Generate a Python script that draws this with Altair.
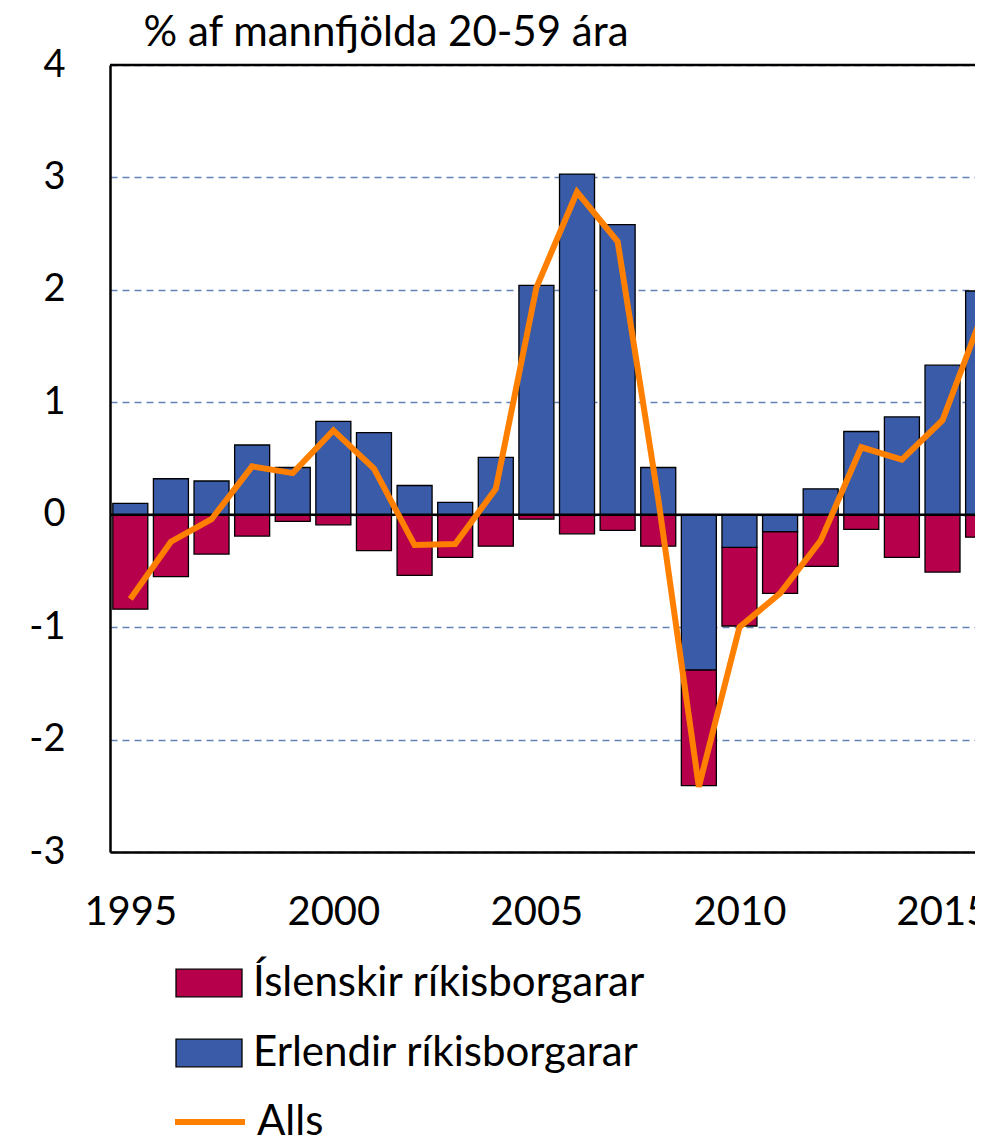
import altair as alt
import pandas as pd

FONT = "Lato"

years = list(range(1995, 2017))
erlendir = [0.10, 0.32, 0.30, 0.62, 0.42, 0.83, 0.73, 0.26, 0.11, 0.51, 2.04,
            3.03, 2.58, 0.42, -1.38, -0.29, -0.15, 0.23, 0.74, 0.87, 1.33, 1.99]
islenskir = [-0.84, -0.55, -0.35, -0.19, -0.06, -0.09, -0.32, -0.54, -0.38, -0.28, -0.04,
             -0.17, -0.14, -0.28, -1.03, -0.70, -0.55, -0.46, -0.13, -0.38, -0.51, -0.20]
alls = [-0.75, -0.24, -0.04, 0.43, 0.37, 0.75, 0.41, -0.27, -0.26, 0.23, 2.02,
        2.87, 2.43, 0.14, -2.42, -1.00, -0.70, -0.23, 0.60, 0.49, 0.84, 1.80]

bar_series = ["Íslenskir ríkisborgarar", "Erlendir ríkisborgarar"]
bar_colors = ["#B7004B", "#3A5BA8"]
line_series = ["Alls"]
line_colors = ["#FF8000"]
y_ticks = [-3, -2, -1, 0, 1, 2, 3, 4]
x_ticks = [1995, 2000, 2005, 2010, 2015]
zero_line = [0]
top_line = [4]
y_title = "% af mannfjölda 20-59 ára"

n = len(years)
bars_df = pd.DataFrame({
    "year": years * 2,
    "value": islenskir + erlendir,
    "series": [bar_series[0]] * n + [bar_series[1]] * n,
    "ord": [1] * n + [0] * n,
})
line_df = pd.DataFrame({"year": years, "value": alls, "series": line_series[0]})

x_scale = alt.Scale(domain=[1994.5, 2015.8], nice=False, zero=False, padding=0)
y_scale = alt.Scale(domain=[-3, 4], nice=False)

x_axis = alt.Axis(
    values=x_ticks, format="d", title=None, ticks=False, grid=False,
    labelFontSize=40, labelFont=FONT, labelColor="black", labelPadding=40,
    labelFlush=False, labelOverlap=False, domainColor="black", domainWidth=2.5)
y_axis = alt.Axis(
    values=y_ticks, labelExpr="'' + datum.value", ticks=False, grid=True,
    gridColor="#6383B8", gridDash=[7, 5], gridWidth=1.5, domainColor="black", domainWidth=2.5,
    labelFontSize=38, labelFont=FONT, labelColor="black", labelPadding=45,
    title=y_title, titleAngle=0, titleAlign="left", titleBaseline="alphabetic",
    titleX=33, titleY=-20, titleFontSize=42, titleFont=FONT, titleFontWeight="normal",
    titleColor="black")

bars = alt.Chart(bars_df).mark_bar(size=35, stroke="black", strokeWidth=1.3, clip=True).encode(
    x=alt.X("year:Q", scale=x_scale, axis=x_axis),
    y=alt.Y("value:Q", scale=y_scale, stack="zero", axis=y_axis),
    fill=alt.Fill("series:N", scale=alt.Scale(domain=bar_series, range=bar_colors),
                  legend=alt.Legend(title=None, orient="none", legendX=65, legendY=884,
                                    direction="vertical",
                                    symbolType="M-1,-0.42L1,-0.42L1,0.42L-1,0.42Z",
                                    symbolSize=4356, symbolStrokeColor="black",
                                    symbolStrokeWidth=1.3, symbolOpacity=1,
                                    labelFontSize=42, labelFont=FONT, labelColor="black",
                                    labelLimit=700, labelOffset=10, rowPadding=15, padding=0)),
    order=alt.Order("ord:Q"),
)

zero = alt.Chart(pd.DataFrame({"value": zero_line})).mark_rule(color="black", strokeWidth=2.5).encode(
    y=alt.Y("value:Q", scale=y_scale, axis=y_axis))
top = alt.Chart(pd.DataFrame({"value": top_line})).mark_rule(color="black", strokeWidth=2.5).encode(
    y=alt.Y("value:Q", scale=y_scale, axis=y_axis))

line = alt.Chart(line_df).mark_line(strokeWidth=6, clip=True).encode(
    x=alt.X("year:Q", scale=x_scale, axis=x_axis),
    y=alt.Y("value:Q", scale=y_scale, axis=y_axis),
    stroke=alt.Stroke("series:N", scale=alt.Scale(domain=line_series, range=line_colors),
                      legend=alt.Legend(title=None, orient="none", legendX=62, legendY=1019,
                                        symbolType="stroke", symbolSize=4900,
                                        symbolStrokeWidth=6,
                                        labelFontSize=42, labelFont=FONT, labelColor="black",
                                        labelLimit=700, labelOffset=9, padding=0)),
)

chart = alt.layer(bars, zero, top, line).resolve_scale(fill="independent", stroke="independent").properties(
    width=865,
    height=787,
    padding={"left": 102, "top": 57, "right": 0, "bottom": 292},
    autosize=alt.AutoSizeParams(type="none"),
).configure_view(stroke="transparent")

chart.save("out.html", embed_options={"renderer": "svg", "actions": False})
